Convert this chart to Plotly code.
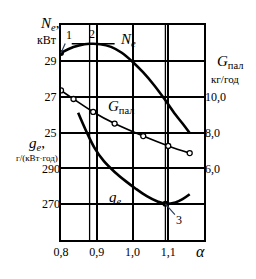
import plotly.graph_objects as go

# ---------------- data ----------------
alpha_ne = [0.80, 0.82, 0.85, 0.88, 0.91, 0.94, 0.97, 1.00, 1.03, 1.06, 1.09, 1.12, 1.14, 1.16]
ne_vals = [29.44, 29.65, 29.85, 29.95, 29.93, 29.78, 29.45, 28.95, 28.35, 27.65, 26.85, 26.0, 25.5, 24.97]

alpha_g = [0.80, 0.835, 0.89, 0.95, 1.03, 1.10, 1.16]
gpal_vals = [10.35, 9.87, 9.15, 8.50, 7.80, 7.25, 6.85]

alpha_ge = [0.848, 0.87, 0.895, 0.92, 0.95, 0.98, 1.01, 1.04, 1.07, 1.092, 1.12, 1.14, 1.16]
ge_vals = [321, 311, 301, 294, 288, 283, 278.5, 274.5, 271.5, 270.2, 271, 272.8, 275.5]

x_ticks = [0.8, 0.9, 1.0, 1.1]
x_ticktext = ["0,8", "0,9", "1,0", "1,1"]
ne_grid = [21, 23, 25, 27, 29]
ne_ticktext = ["", "", "25", "27", "29"]
g_ticks = [6, 8, 10]
g_ticktext = ["6,0", "8,0", "10,0"]
ge_ticks = [270, 290]
ge_ticktext = ["270", "290"]

# ---------------- figure ----------------
W, H = 256, 279
ML, MR, MT, MB = 61, 52, 25, 39
FONT = "Liberation Serif"


def px(x):
    return (x - ML) / (W - ML - MR)


def py(y):
    return 1 - (y - MT) / (H - MT - MB)


fig = go.Figure()

fig.add_trace(go.Scatter(x=alpha_ne, y=ne_vals, mode="lines", yaxis="y",
                         line=dict(color="black", width=2.6, shape="spline"),
                         showlegend=False, hoverinfo="skip"))
fig.add_trace(go.Scatter(x=[alpha_ne[0]], y=[ne_vals[0]], mode="markers", yaxis="y",
                         marker=dict(color="black", size=6), showlegend=False))

fig.add_trace(go.Scatter(x=alpha_g, y=gpal_vals, mode="lines+markers", yaxis="y2",
                         line=dict(color="black", width=1.7, shape="spline"),
                         marker=dict(symbol="circle", size=5, color="white",
                                     line=dict(color="black", width=1.3)),
                         showlegend=False, hoverinfo="skip"))

fig.add_trace(go.Scatter(x=alpha_ge, y=ge_vals, mode="lines", yaxis="y3",
                         line=dict(color="black", width=2.6, shape="spline"),
                         showlegend=False, hoverinfo="skip"))
i_min = ge_vals.index(min(ge_vals))
fig.add_trace(go.Scatter(x=[alpha_ge[i_min]], y=[ge_vals[i_min]], mode="markers", yaxis="y3",
                         marker=dict(color="black", size=6), showlegend=False))

# vertical lines at Ne max and ge min
i_max = ne_vals.index(max(ne_vals))
for xv in (alpha_ne[i_max], alpha_ge[i_min]):
    fig.add_shape(type="line", xref="x", yref="paper", x0=xv, x1=xv, y0=0, y1=1,
                  line=dict(color="black", width=1.3))
# horizontal tangent at Ne max
fig.add_shape(type="line", xref="x", yref="y", x0=0.83, x1=0.95,
              y0=ne_vals[i_max], y1=ne_vals[i_max], line=dict(color="black", width=1.5))

ann = []


def text(x, y, t, size=12, xa="center", ya="middle"):
    ann.append(dict(x=px(x), y=py(y), xref="paper", yref="paper", text=t, showarrow=False,
                    xanchor=xa, yanchor=ya,
                    font=dict(family=FONT, size=size, color="black")))


text(49, 24, "<i>N</i><sub><i>e</i></sub>,", 15)
text(47, 40, "кВт", 12)
text(37, 144, "<i>g</i><sub><i>e</i></sub>,", 15)
text(37, 158, "г/(кВт·год)", 9)
text(230, 62, "<i>G</i><sub>пал</sub>", 15)
text(225, 79, "кг/год", 11)
text(200, 251, "<i>α</i>", 16)
text(92, 34, "2", 12)
text(128, 40, "<i>N</i><sub><i>e</i></sub>", 15)
text(121, 107, "<i>G</i><sub>пал</sub>", 15)
text(115, 198, "<i>g</i><sub><i>e</i></sub>", 15)

# leader labels
ann.append(dict(x=alpha_ne[0], y=ne_vals[0], xref="x", yref="y", text="1", showarrow=True,
                arrowhead=0, arrowwidth=1.2, ax=8, ay=-18,
                font=dict(family=FONT, size=12, color="black")))
ann.append(dict(x=alpha_ge[i_min], y=ge_vals[i_min], xref="x", yref="y3", text="3", showarrow=True,
                arrowhead=0, arrowwidth=1.2, ax=14, ay=16,
                font=dict(family=FONT, size=12, color="black")))

fig.update_layout(
    width=W, height=H, margin=dict(l=ML, r=MR, t=MT, b=MB),
    paper_bgcolor="white", plot_bgcolor="white",
    font=dict(family=FONT, size=12, color="black"),
    annotations=ann,
    xaxis=dict(range=[0.8, 1.2], tickvals=x_ticks, ticktext=x_ticktext,
               showgrid=True, gridcolor="black", gridwidth=1.5,
               showline=True, mirror=True, linecolor="black", linewidth=2,
               zeroline=False, ticks="", tickfont=dict(size=12)),
    yaxis=dict(range=[19, 31], tickvals=ne_grid, ticktext=ne_ticktext,
               showgrid=True, gridcolor="black", gridwidth=1.5,
               showline=True, mirror=True, linecolor="black", linewidth=2,
               zeroline=False, ticks="", tickfont=dict(size=12)),
    yaxis2=dict(range=[2, 14], tickvals=g_ticks, ticktext=g_ticktext, overlaying="y",
                side="right", anchor="x", showgrid=False, zeroline=False, ticks="",
                showline=False, tickfont=dict(size=12)),
    yaxis3=dict(range=[250, 370], tickvals=ge_ticks, ticktext=ge_ticktext, overlaying="y",
                side="left", anchor="x", showgrid=False, zeroline=False, ticks="",
                showline=False, tickfont=dict(size=12)),
)

fig.write_html("out.html")
